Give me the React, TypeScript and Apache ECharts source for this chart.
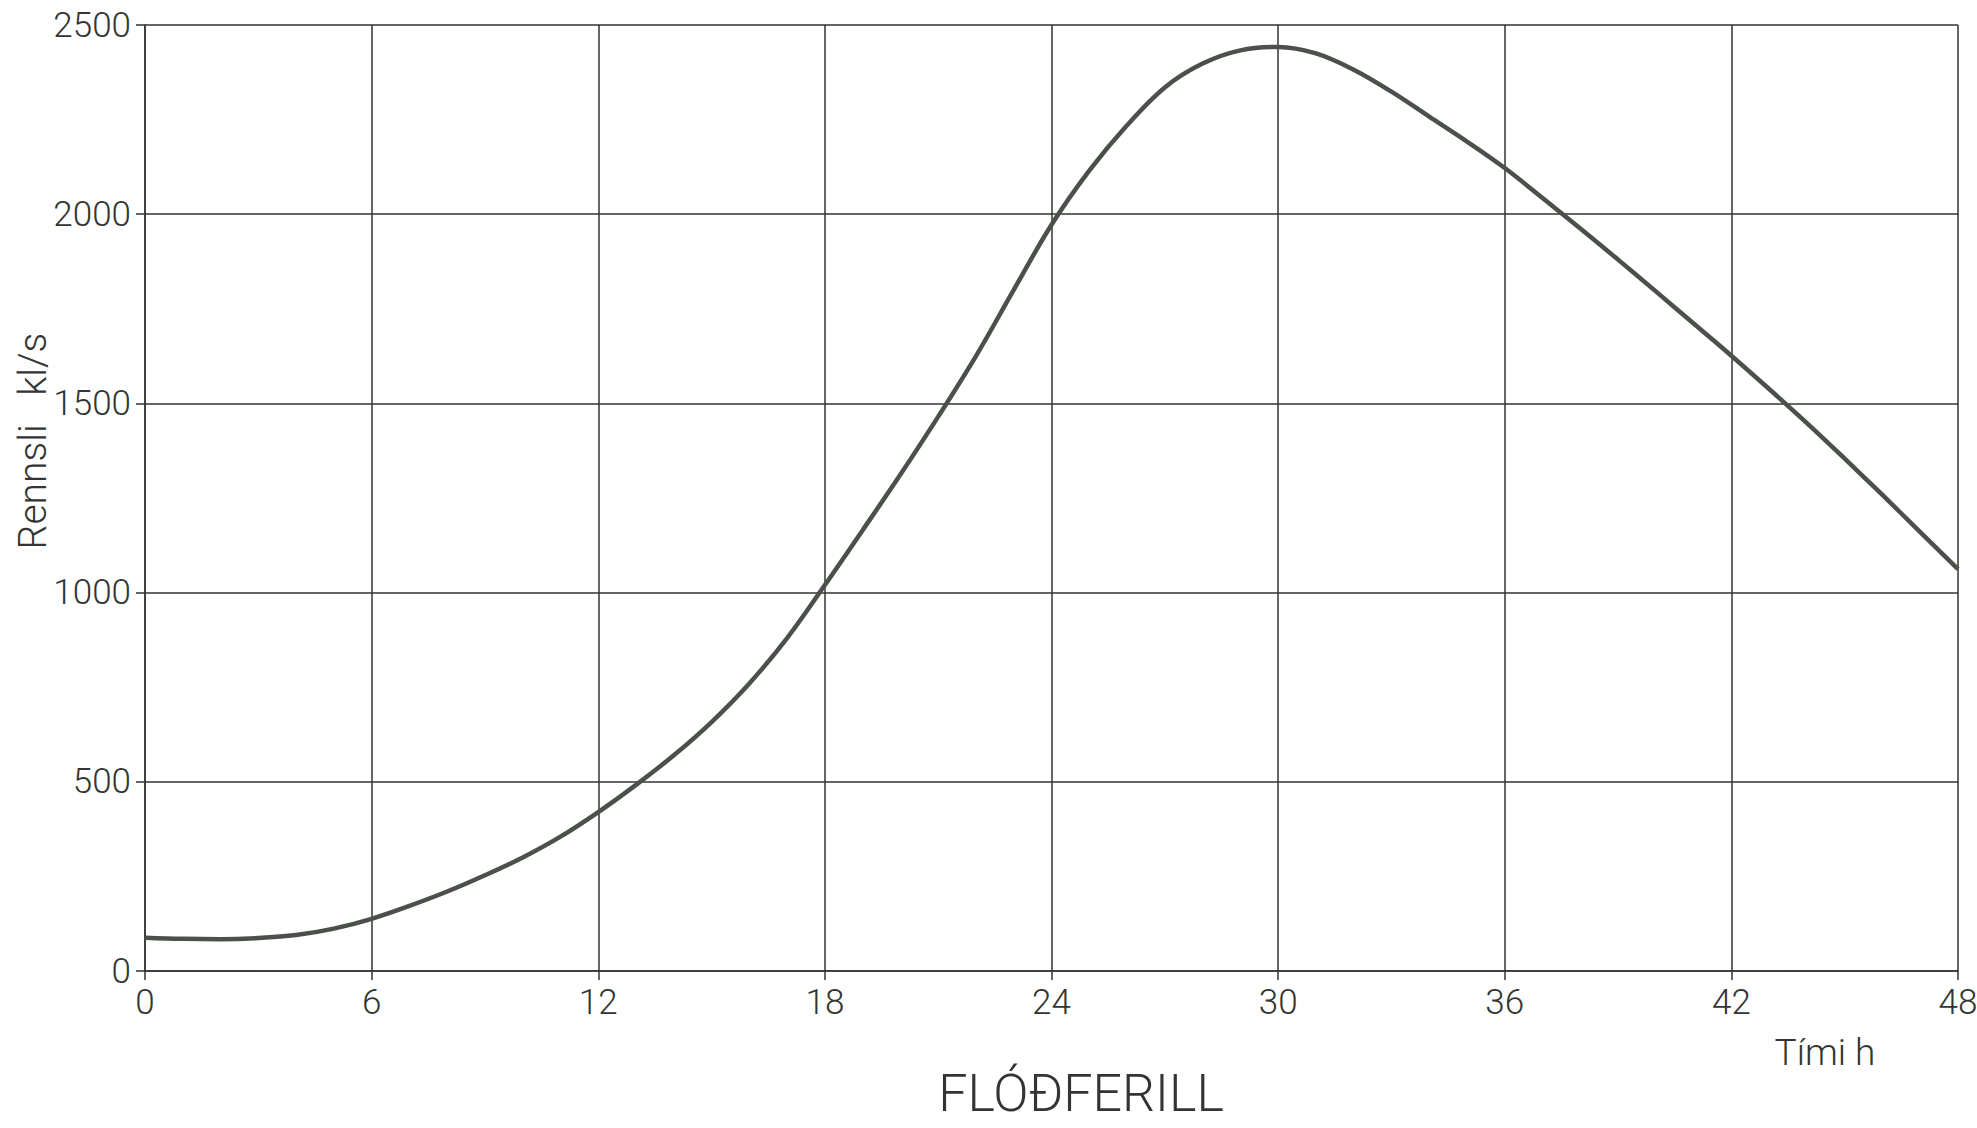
import React, { useEffect, useRef } from "react";
import * as echarts from "echarts";

const hours = [0, 1, 2, 3, 4, 5, 6, 7, 8, 9, 10, 11, 12, 13, 14, 15, 16, 17, 18, 19, 20, 21, 22, 23, 24, 25, 26, 27, 28, 29, 30, 31, 32, 33, 34, 35, 36, 37, 38, 39, 40, 41, 42, 43, 44, 45, 46, 47, 48];
const flow = [88, 85, 84, 87, 95, 112, 138, 172, 210, 253, 300, 355, 420, 492, 570, 658, 760, 880, 1020, 1165, 1312, 1465, 1625, 1800, 1972, 2115, 2235, 2335, 2398, 2433, 2442, 2425, 2382, 2324, 2258, 2192, 2122, 2043, 1962, 1880, 1796, 1711, 1626, 1538, 1448, 1354, 1258, 1160, 1062];

const xTicks = { min: 0, max: 48, interval: 6 };
const yTicks = { min: 0, max: 2500, interval: 500 };

const titleText = "FLÓÐFERILL";
const xName = "Tími h";
const yName = "Rennsli\u00a0\u00a0\u00a0kl/s";

const FONT = "Roboto, 'DejaVu Sans', sans-serif";
const INK = "#333532";

export default function App() {
  const ref = useRef<HTMLDivElement>(null);
  useEffect(() => {
    document.body.style.margin = "0";
    const chart = echarts.init(ref.current!, null, { renderer: "svg" });
    const data = hours.map((h, i) => [h, flow[i]]);
    const label = {
      color: INK,
      fontSize: 35,
      fontFamily: FONT,
      fontWeight: 300,
      margin: 14,
      showMinLabel: true,
      showMaxLabel: true,
      formatter: (v: number) => String(v),
    };
    chart.setOption({
      animation: false,
      backgroundColor: "#ffffff",
      grid: { left: 145, right: 19, top: 25, bottom: 157, containLabel: false, outerBoundsMode: "none" },
      xAxis: {
        type: "value",
        min: xTicks.min,
        max: xTicks.max,
        interval: xTicks.interval,
        axisLine: { show: true, lineStyle: { color: INK, width: 1.5 } },
        axisTick: { show: true, inside: false, length: 9, lineStyle: { color: INK, width: 1.5 } },
        axisLabel: label,
        splitLine: { show: true, lineStyle: { color: INK, width: 1.5 } },
      },
      yAxis: {
        type: "value",
        min: yTicks.min,
        max: yTicks.max,
        interval: yTicks.interval,
        axisLine: { show: true, lineStyle: { color: INK, width: 1.5 } },
        axisTick: { show: true, inside: false, length: 9, lineStyle: { color: INK, width: 1.5 } },
        axisLabel: label,
        splitLine: { show: true, lineStyle: { color: INK, width: 1.5 } },
      },
      series: [
        {
          type: "line",
          data,
          smooth: 0.35,
          showSymbol: false,
          symbol: "none",
          lineStyle: { color: "#4b504b", width: 4.5 },
        },
      ],
      graphic: [
        {
          type: "text",
          x: 33,
          y: 441,
          rotation: Math.PI / 2,
          style: { text: yName, fill: INK, font: `300 39px ${FONT}`, textAlign: "center", textVerticalAlign: "middle" },
        },
        {
          type: "text",
          x: 1825,
          y: 1052,
          style: { text: xName, fill: INK, font: `300 37px ${FONT}`, textAlign: "center", textVerticalAlign: "middle" },
        },
        {
          type: "text",
          x: 1081,
          y: 1093,
          style: { text: titleText, fill: INK, font: `300 52px ${FONT}`, textAlign: "center", textVerticalAlign: "middle" },
        },
      ],
    });
    return () => chart.dispose();
  }, []);
  return <div ref={ref} style={{ position: "absolute", left: 0, top: 0, width: 1977, height: 1128 }} />;
}
